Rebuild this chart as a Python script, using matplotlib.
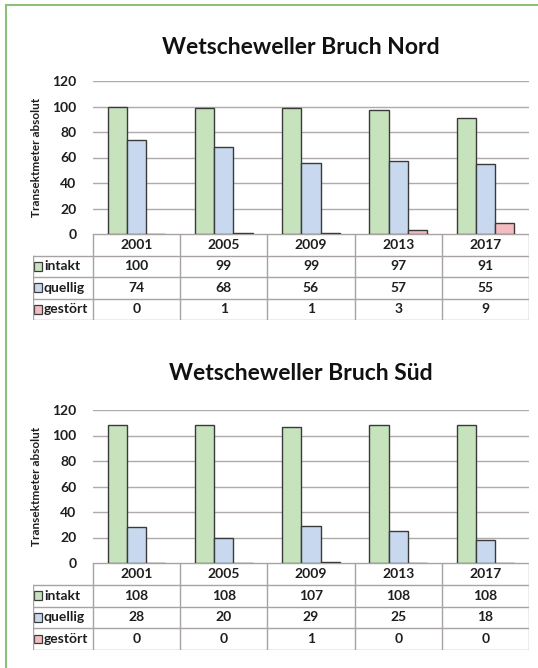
import matplotlib
matplotlib.use("Agg")
import matplotlib.pyplot as plt
from matplotlib.patches import Rectangle
from matplotlib.lines import Line2D

plt.rcParams["font.family"] = ["Lato", "DejaVu Sans"]

years = ["2001", "2005", "2009", "2013", "2017"]
series_names = ["intakt", "quellig", "gestört"]
colors = ["#c6e3be", "#c8d9ef", "#f4bcc0"]

nord_intakt = [100, 99, 99, 97, 91]
nord_quellig = [74, 68, 56, 57, 55]
nord_gestoert = [0, 1, 1, 3, 9]

sued_intakt = [108, 108, 107, 108, 108]
sued_quellig = [28, 20, 29, 25, 18]
sued_gestoert = [0, 0, 1, 0, 0]

W, H = 538, 668
GRID = "#b0aaaa"
TBL = "#a8a2a2"
TXT = "#1e1e1e"


def fx(px):
    return px / W


def fy(py):
    return 1 - py / H


def panel(fig, title, title_y, top, zero, tbl_bottom, data):
    # bar axes
    ax = fig.add_axes([fx(93), fy(zero), fx(529) - fx(93), fy(top) - fy(zero)])
    n = len(years)
    bw = 0.22
    for i, (vals, c) in enumerate(zip(data, colors)):
        xs = [k + (i - 1) * bw for k in range(n)]
        ax.bar(xs, vals, width=bw, color=c, edgecolor="#3a3a3a", linewidth=1.0, zorder=3)
    ax.set_xlim(-0.5, n - 0.5)
    ax.set_ylim(0, 120)
    ax.set_yticks(range(0, 121, 20))
    ax.yaxis.grid(True, color=GRID, linewidth=1.0, zorder=0)
    ax.set_xticks([])
    ax.tick_params(axis="y", length=0, pad=12, labelsize=10, labelcolor=TXT)
    for lbl in ax.get_yticklabels():
        lbl.set_fontweight("bold")
    for s in ax.spines.values():
        s.set_visible(False)
    fig.text(fx(36), (fy(top) + fy(zero)) / 2, "Transektmeter absolut",
             rotation=90, ha="center", va="center", fontsize=8.5,
             fontweight="bold", color=TXT)
    fig.text(fx(301), fy(title_y), title, ha="center", va="center",
             fontsize=16.5, fontweight="bold", color="#111111")

    # table axes (same x units as bars)
    unit = (529 - 93) / n
    left_u = -0.5 - (93 - 33) / unit
    tx = fig.add_axes([fx(33), fy(tbl_bottom), fx(529) - fx(33), fy(zero) - fy(tbl_bottom)])
    tx.set_xlim(left_u, n - 0.5)
    tx.set_ylim(4, 0)
    tx.axis("off")
    lw = 1.0
    tx.plot([-0.5, n - 0.5], [0, 0], color=TBL, lw=lw)
    for r in range(1, 5):
        tx.plot([left_u, n - 0.5], [r, r], color=TBL, lw=lw)
    tx.plot([left_u, left_u], [1, 4], color=TBL, lw=lw)
    for k in range(n + 1):
        tx.plot([k - 0.5, k - 0.5], [0, 4], color=TBL, lw=lw)
    for k, y in enumerate(years):
        tx.text(k, 0.5, y, ha="center", va="center", fontsize=10,
                fontweight="bold", color=TXT)
    for i, (name, vals, c) in enumerate(zip(series_names, data, colors)):
        r = i + 1.5
        sq = 8 / unit
        tx.add_patch(Rectangle((left_u + 1.5 / unit, r - 0.2), sq, 0.4,
                               facecolor=c, edgecolor="#3a3a3a", lw=0.9))
        tx.text(left_u + 11 / unit, r, name, ha="left", va="center",
                fontsize=10, fontweight="bold", color=TXT)
        for k, v in enumerate(vals):
            tx.text(k, r, str(v), ha="center", va="center", fontsize=10,
                    fontweight="bold", color=TXT)


fig = plt.figure(figsize=(W / 100, H / 100), dpi=100)
fig.patch.set_facecolor("white")

panel(fig, "Wetscheweller Bruch Nord", 47, 81, 234, 320,
      [nord_intakt, nord_quellig, nord_gestoert])
panel(fig, "Wetscheweller Bruch Süd", 373, 410, 563, 650,
      [sued_intakt, sued_quellig, sued_gestoert])

# green frame (top and left edges visible)
fig.add_artist(Line2D([fx(6), 1], [fy(5), fy(5)], color="#8cc07a", lw=1.5))
fig.add_artist(Line2D([fx(6), fx(6)], [fy(5), 0], color="#8cc07a", lw=1.5))

fig.savefig("out.png", dpi=100)
